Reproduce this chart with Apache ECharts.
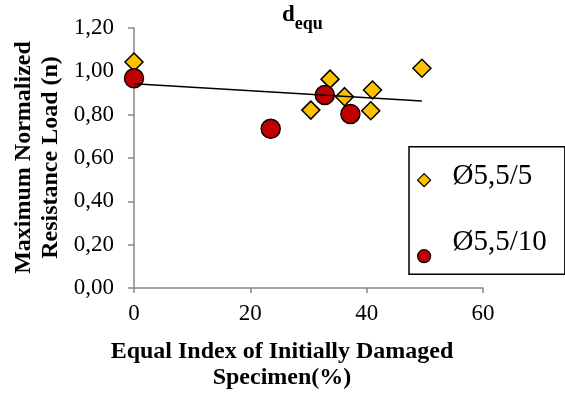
<!DOCTYPE html>
<html>
<head>
<meta charset="utf-8">
<script src="https://cdn.jsdelivr.net/npm/echarts@6/dist/echarts.min.js"></script>
<style>
html,body{margin:0;padding:0;background:#fff;}
#chart{width:565px;height:396px;}
</style>
</head>
<body>
<div id="chart"></div>
<script>
// Data
var seriesNames = ['Ø5,5/5', 'Ø5,5/10'];
var diamondX = [0, 33.7, 30.4, 36.2, 41.0, 40.7, 49.5];
var diamondY = [1.043, 0.964, 0.821, 0.883, 0.914, 0.818, 1.014];
var circleX = [0, 32.8, 37.2, 23.5];
var circleY = [0.968, 0.891, 0.803, 0.735];
var trendX = [0, 49.5];
var trendY = [0.943, 0.863];
var xTicks = [0, 20, 40, 60];
var yTicks = [0, 0.2, 0.4, 0.6, 0.8, 1.0, 1.2];

function pairs(xs, ys) { return xs.map(function (x, i) { return [x, ys[i]]; }); }

var FONT = '"Liberation Serif", "Times New Roman", serif';
var axisColor = '#868686';

var chart = echarts.init(document.getElementById('chart'), null, {renderer: 'canvas'});
chart.setOption({
  animation: false,
  backgroundColor: '#ffffff',
  textStyle: {fontFamily: FONT},
  grid: {left: 134, right: 82, top: 28, bottom: 108, containLabel: false},
  xAxis: {
    type: 'value',
    min: xTicks[0], max: xTicks[xTicks.length - 1], interval: xTicks[1] - xTicks[0],
    axisLine: {show: true, lineStyle: {color: axisColor, width: 1.5}},
    axisTick: {show: true, length: 5, lineStyle: {color: axisColor, width: 1.5}},
    splitLine: {show: false},
    axisLabel: {color: '#000', fontFamily: FONT, fontSize: 23, margin: 14}
  },
  yAxis: {
    type: 'value',
    min: yTicks[0], max: yTicks[yTicks.length - 1], interval: 0.2,
    axisLine: {show: true, lineStyle: {color: axisColor, width: 1.5}},
    axisTick: {show: true, length: 6, lineStyle: {color: axisColor, width: 1.5}},
    splitLine: {show: false},
    axisLabel: {color: '#000', fontFamily: FONT, fontSize: 23, margin: 20,
      formatter: function (v) { return v.toFixed(2).replace('.', ','); }}
  },
  legend: {
    orient: 'vertical',
    left: 409, top: 146.7,
    padding: [15, 18, -10, 8],
    itemGap: 29.5,
    itemWidth: 13, itemHeight: 13,
    borderColor: '#000', borderWidth: 1.5,
    formatter: function (name) {
      return '{' + (name === seriesNames[0] ? 'p' : 'q') + '|' + name + '}';
    },
    textStyle: {
      fontFamily: FONT, fontSize: 29, color: '#000',
      rich: {
        p: {fontFamily: FONT, fontSize: 29, lineHeight: 30, color: '#000', padding: [0, 0, 8, 17]},
        q: {fontFamily: FONT, fontSize: 29, lineHeight: 30, color: '#000', padding: [0, 0, 27, 17]}
      }
    },
    data: [
      {name: seriesNames[0], icon: 'diamond', itemStyle: {color: '#FFC000', borderColor: '#000', borderWidth: 1.2}},
      {name: seriesNames[1], icon: 'circle', itemStyle: {color: '#C00000', borderColor: '#000', borderWidth: 1.2}}
    ]
  },
  graphic: [
    {
      type: 'text', left: 282, top: 4,
      style: {
        text: '{a|d}{b|equ}',
        rich: {
          a: {fontFamily: FONT, fontSize: 23, fontWeight: 'bold', fill: '#000', padding: [0, 0, 6, 0], verticalAlign: 'bottom'},
          b: {fontFamily: FONT, fontSize: 18, fontWeight: 'bold', fill: '#000', verticalAlign: 'bottom'}
        }
      }
    },
    {
      type: 'text', x: 37, y: 157.5, rotation: Math.PI / 2,
      style: {
        text: 'Maximum Normalized\nResistance Load (n)',
        fontFamily: FONT, fontSize: 24, fontWeight: 'bold', fill: '#000',
        lineHeight: 27, align: 'center', verticalAlign: 'middle'
      }
    },
    {
      type: 'text', x: 282, y: 365,
      style: {
        text: 'Equal Index of Initially Damaged\nSpecimen(%)',
        fontFamily: FONT, fontSize: 24, fontWeight: 'bold', fill: '#000',
        lineHeight: 26, align: 'center', verticalAlign: 'middle'
      }
    }
  ],
  series: [
    {
      name: seriesNames[0], type: 'scatter', symbol: 'diamond', symbolSize: 18,
      itemStyle: {color: '#FFC000', borderColor: '#000', borderWidth: 1.5, opacity: 1},
      data: pairs(diamondX, diamondY), z: 2
    },
    {
      name: seriesNames[1], type: 'scatter', symbol: 'circle', symbolSize: 19,
      itemStyle: {color: '#C00000', borderColor: '#000', borderWidth: 1.5, opacity: 1},
      data: pairs(circleX, circleY), z: 3
    },
    {
      name: 'trend', type: 'line', showSymbol: false, symbol: 'none', silent: true,
      lineStyle: {color: '#000', width: 1.5},
      data: pairs(trendX, trendY), z: 4
    }
  ]
});
</script>
</body>
</html>
